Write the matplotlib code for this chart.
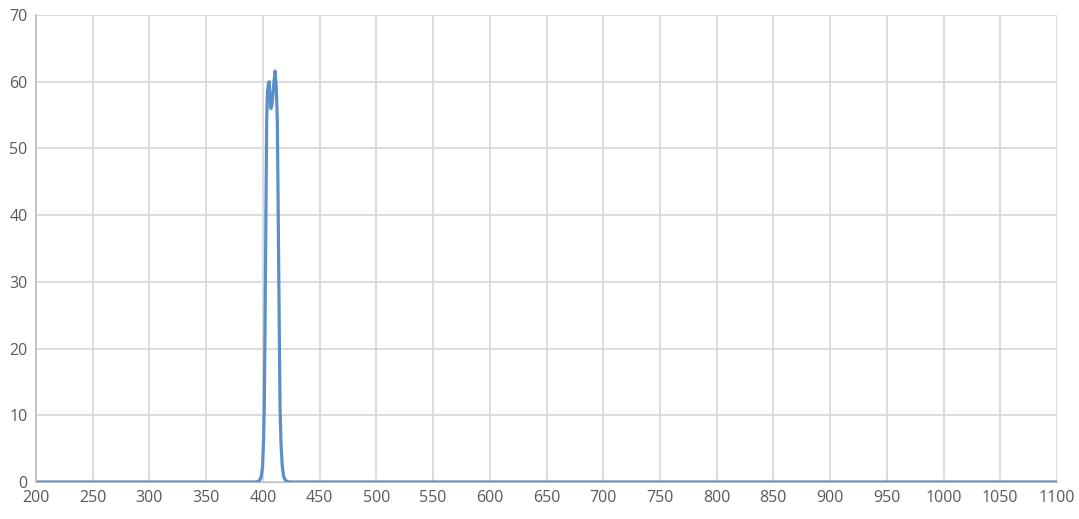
import matplotlib
matplotlib.use("Agg")
import matplotlib.pyplot as plt

wavelength = [200, 394, 397, 398.5, 399.7, 400.5, 401.2, 401.8, 402.5, 403.3, 404, 405, 405.5,
              406, 407, 408, 409.5, 410.7, 411.8, 412.7, 413.5, 414.3, 415.1, 416, 417.1,
              418.3, 420, 423, 1100]
transmission = [0, 0, 0.2, 0.8, 2.3, 6, 11, 22, 37, 54, 58.5, 59.8, 60,
                58.5, 56, 56.5, 59.5, 61.6, 59, 54, 40, 25, 11, 5.5, 2.3,
                0.8, 0.2, 0, 0]
x_ticks = list(range(200, 1101, 50))
y_ticks = list(range(0, 71, 10))

plt.rcParams['font.family'] = ['Open Sans', 'DejaVu Sans']
fig = plt.figure(figsize=(10.79, 5.19), dpi=100)
ax = fig.add_axes([0.0334, 0.0713, 0.9462, 0.8997])
ax.plot(wavelength, transmission, color='#5b8fc9', lw=2.3, solid_joinstyle='round')
ax.set_xlim(200, 1100)
ax.set_ylim(0, 70)
ax.set_xticks(x_ticks)
ax.set_yticks(y_ticks)
ax.grid(True, color='#d9d9d9', lw=1.3)
ax.set_axisbelow(True)
for s in ['top', 'right']:
    ax.spines[s].set_visible(False)
ax.spines['left'].set_color('#bfbfbf')
ax.spines['left'].set_linewidth(1.3)
ax.spines['bottom'].set_color('#bfbfbf')
ax.tick_params(length=0, labelsize=11.5, colors='#595959', pad=6)
fig.savefig('out.png', dpi=100)
